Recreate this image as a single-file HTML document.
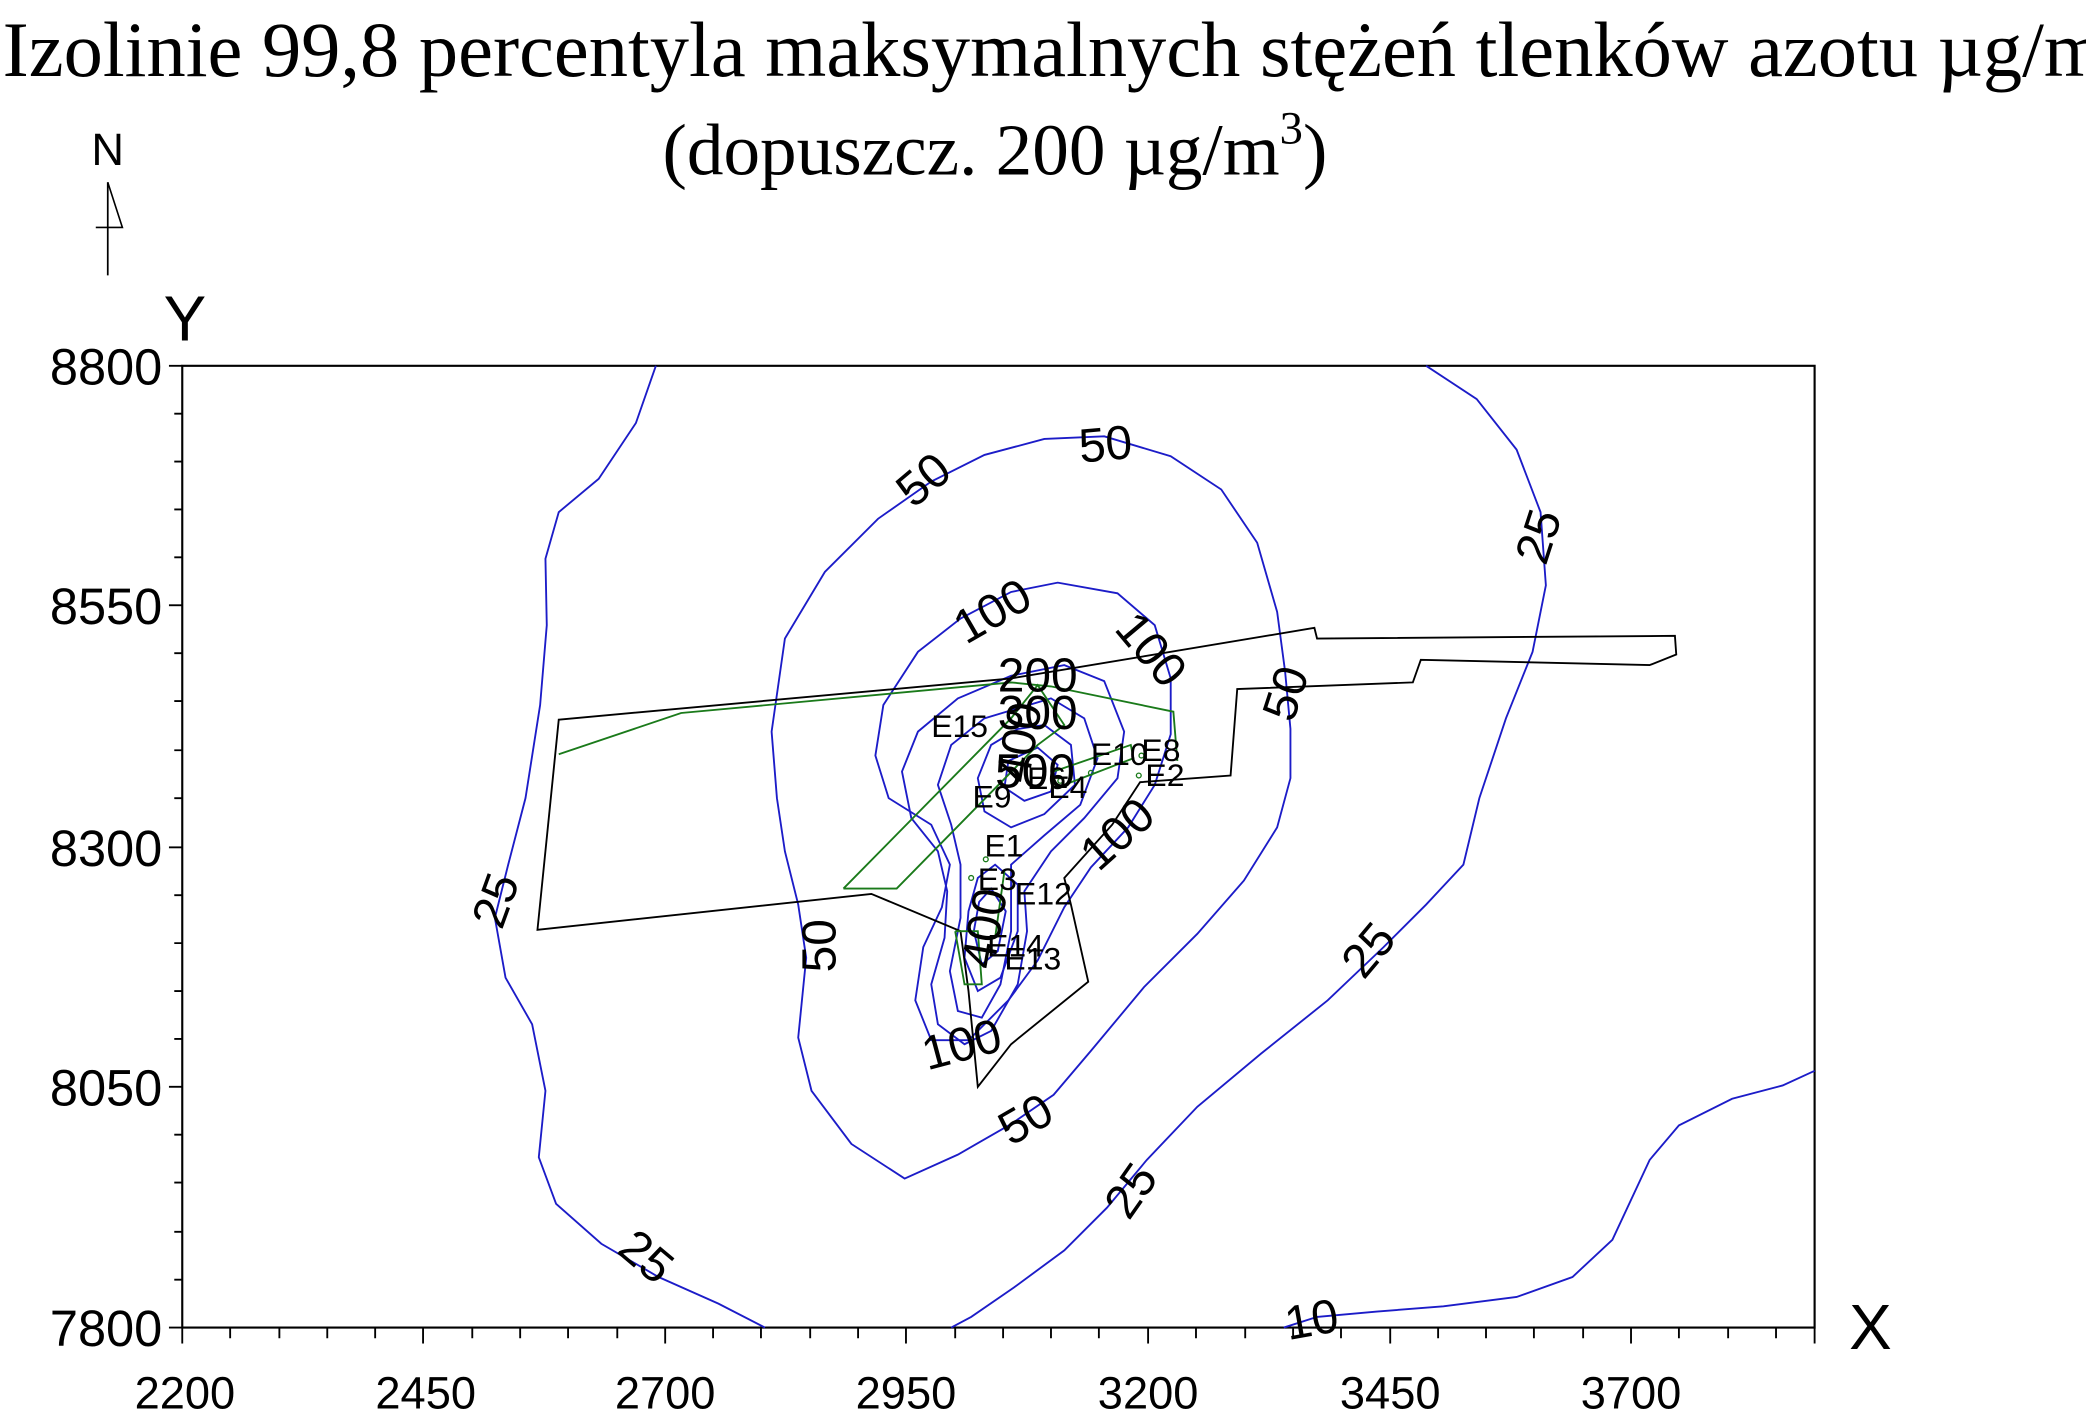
<!DOCTYPE html>
<html><head><meta charset="utf-8"><style>
html,body{margin:0;padding:0;background:#fff;}
svg{display:block;}
text{font-family:"Liberation Sans",sans-serif;}
</style></head><body>
<svg width="2086" height="1426" viewBox="0 0 1568 1072" preserveAspectRatio="none" xmlns="http://www.w3.org/2000/svg">
<rect width="1568" height="1072" fill="#fff"/>
<text x="2" y="57" font-size="59" style="font-family:'Liberation Serif',serif">Izolinie 99,8 percentyla maksymalnych stężeń tlenków azotu µg/m</text>
<text x="498" y="131" font-size="55" style="font-family:'Liberation Serif',serif">(dopuszcz. 200 µg/m<tspan font-size="35" dy="-23">3</tspan><tspan dy="23">)</tspan></text>
<text x="81" y="124" font-size="34" text-anchor="middle">N</text>
<line x1="81" y1="137" x2="81" y2="207" stroke="#000" stroke-width="1.3"/>
<polyline points="81,137 92,171 72,171" fill="none" stroke="#000" stroke-width="1.2"/>
<text x="139" y="256" font-size="48" text-anchor="middle">Y</text>
<text x="1406" y="1014" font-size="48" text-anchor="middle">X</text>
<rect x="137" y="275" width="1227" height="723" fill="none" stroke="#000" stroke-width="1.6"/>
<g stroke="#000" stroke-width="1.4">
<line x1="127" y1="275" x2="137" y2="275"/><line x1="127" y1="455" x2="137" y2="455"/><line x1="127" y1="637" x2="137" y2="637"/><line x1="127" y1="817" x2="137" y2="817"/><line x1="127" y1="998" x2="137" y2="998"/>
<path d="M131 311H137M131 347H137M131 383H137M131 419H137M131 491H137M131 527H137M131 564H137M131 600H137M131 673H137M131 709H137M131 745H137M131 781H137M131 853H137M131 889H137M131 926H137M131 962H137"/>
<line x1="137" y1="998" x2="137" y2="1010"/><line x1="318" y1="998" x2="318" y2="1010"/><line x1="500" y1="998" x2="500" y2="1010"/><line x1="681" y1="998" x2="681" y2="1010"/><line x1="863" y1="998" x2="863" y2="1010"/><line x1="1045" y1="998" x2="1045" y2="1010"/><line x1="1226" y1="998" x2="1226" y2="1010"/>
<path d="M173 998V1006M210 998V1006M246 998V1006M282 998V1006M355 998V1006M391 998V1006M427 998V1006M464 998V1006M536 998V1006M572 998V1006M609 998V1006M645 998V1006M718 998V1006M754 998V1006M790 998V1006M826 998V1006M899 998V1006M936 998V1006M972 998V1006M1008 998V1006M1081 998V1006M1117 998V1006M1153 998V1006M1190 998V1006M1262 998V1006M1299 998V1006M1335 998V1006M1364 998V1010"/>
</g>
<g font-size="38" text-anchor="end">
<text x="122" y="289">8800</text><text x="122" y="469">8550</text><text x="122" y="651">8300</text><text x="122" y="831">8050</text><text x="122" y="1012">7800</text>
</g>
<g font-size="34" text-anchor="middle">
<text x="139" y="1059">2200</text><text x="320" y="1059">2450</text><text x="500" y="1059">2700</text><text x="681" y="1059">2950</text><text x="863" y="1059">3200</text><text x="1045" y="1059">3450</text><text x="1226" y="1059">3700</text>
</g>
<g fill="none" stroke="#1c1cc8" stroke-width="1.4">
<path d="M493 275 L478 318 L450 360 L420 385 L410 420 L411 470 L406 530 L395 600 L382 650 L372 690 L380 735 L400 770 L410 820 L405 870 L418 905 L452 935 L495 960 L540 980 L575 998"/>
<path d="M1072 275 L1110 300 L1140 338 L1158 385 L1162 440 L1152 490 L1132 540 L1112 600 L1100 650 L1072 680 L1040 712 L998 752 L948 792 L900 832 L862 872 L832 908 L800 940 L762 968 L730 990 L715 998"/>
<path d="M965 998 L990 990 L1035 986 L1085 982 L1140 975 L1182 960 L1212 932 L1240 872 L1262 846 L1302 826 L1340 816 L1364 805"/>
<path d="M830 328 L880 343 L918 368 L945 408 L960 460 L966 505 L970 548 L970 585 L960 622 L935 662 L900 702 L860 742 L820 790 L792 823 L760 845 L720 868 L680 886 L640 860 L610 820 L600 780 L606 720 L600 680 L590 640 L584 600 L580 550 L590 480 L620 430 L660 390 L700 362 L740 342 L785 330 Z"/>
<path d="M795 438 L840 446 L868 470 L880 510 L880 552 L868 590 L848 622 L820 652 L800 682 L780 722 L758 752 L728 782 L700 782 L688 752 L694 712 L708 682 L714 650 L700 620 L668 600 L658 568 L664 530 L690 490 L722 465 L760 445 Z"/>
<path d="M800 500 L830 512 L845 550 L840 585 L815 615 L790 640 L770 670 L772 700 L765 740 L745 775 L725 785 L705 770 L700 740 L710 705 L712 670 L705 640 L685 615 L678 580 L690 550 L720 525 L760 508 Z"/>
<path d="M790 525 L815 540 L825 570 L812 605 L785 628 L760 650 L760 700 L752 740 L738 765 L720 760 L714 730 L722 690 L722 650 L715 620 L705 590 L715 560 L740 540 Z"/>
<path d="M785 545 L805 560 L808 590 L785 612 L760 622 L740 610 L735 585 L745 560 L765 548 Z"/>
<path d="M780 562 L795 575 L790 595 L770 602 L755 592 L758 572 Z"/>
<path d="M748 650 L765 665 L765 700 L752 735 L735 745 L725 720 L728 685 L735 660 Z"/>
<path d="M745 668 L756 685 L750 715 L738 725 L732 700 L736 678 Z"/>
</g>
<polygon points="420,541 760,510 988,472 990,480 1259,478 1260,492 1240,500 1068,496 1062,513 930,518 925,583 857,588 836,620 800,660 805,680 818,738 760,785 735,817 728,745 722,700 655,672 404,699" fill="none" stroke="#000" stroke-width="1.4"/>
<g fill="none" stroke="#1a7a1a" stroke-width="1.4">
<polyline points="420,567 512,536 760,513 790,516 882,535 885,572"/>
<polyline points="634,668 760,540 780,515 800,545 780,560 674,668 634,668"/>
<polyline points="792,580 850,560 852,570 800,590"/>
<polyline points="718,700 725,740 738,740 735,700 718,700"/>
<polyline points="755,655 748,705"/>
</g>
<g fill="none" stroke="#1a7a1a" stroke-width="1">
<circle cx="820" cy="581" r="1.8"/><circle cx="797" cy="587" r="1.8"/><circle cx="856" cy="583" r="1.8"/><circle cx="858" cy="568" r="1.8"/><circle cx="730" cy="660" r="1.8"/><circle cx="741" cy="646" r="1.8"/>
</g>
<g font-size="36" text-anchor="middle">
<text transform="translate(702,370) rotate(-40)">50</text>
<text transform="translate(832,346) rotate(-5)">50</text>
<text transform="translate(978,525) rotate(-72)">50</text>
<text transform="translate(777,852) rotate(-30)">50</text>
<text transform="translate(628,711) rotate(-90)">50</text>
<text transform="translate(752,470) rotate(-30)">100</text>
<text transform="translate(856,496) rotate(50)">100</text>
<text transform="translate(848,636) rotate(-42)">100</text>
<text transform="translate(726,797) rotate(-15)">100</text>
<text transform="translate(1168,407) rotate(-72)">25</text>
<text transform="translate(1038,722) rotate(-50)">25</text>
<text transform="translate(860,902) rotate(-55)">25</text>
<text transform="translate(478,954) rotate(40)">25</text>
<text transform="translate(384,681) rotate(-70)">25</text>
<text transform="translate(988,1004) rotate(-10)">10</text>
<text transform="translate(780,520)">200</text>
<text transform="translate(780,548)">300</text>
<text transform="translate(778,560) rotate(-80)">400</text>
<text transform="translate(752,700) rotate(-80)">400</text>
<text transform="translate(778,592)">500</text>
</g>
<g font-size="24">
<text x="700" y="554">E15</text>
<text x="820" y="575">E10</text>
<text x="858" y="572">E8</text>
<text x="861" y="591">E2</text>
<text x="731" y="607">E9</text>
<text x="788" y="600">E4</text>
<text x="772" y="593">E6</text>
<text x="740" y="644">E1</text>
<text x="735" y="669">E3</text>
<text x="763" y="680">E12</text>
<text x="742" y="719">E14</text>
<text x="755" y="729">E13</text>
</g>
</svg>
</body></html>
